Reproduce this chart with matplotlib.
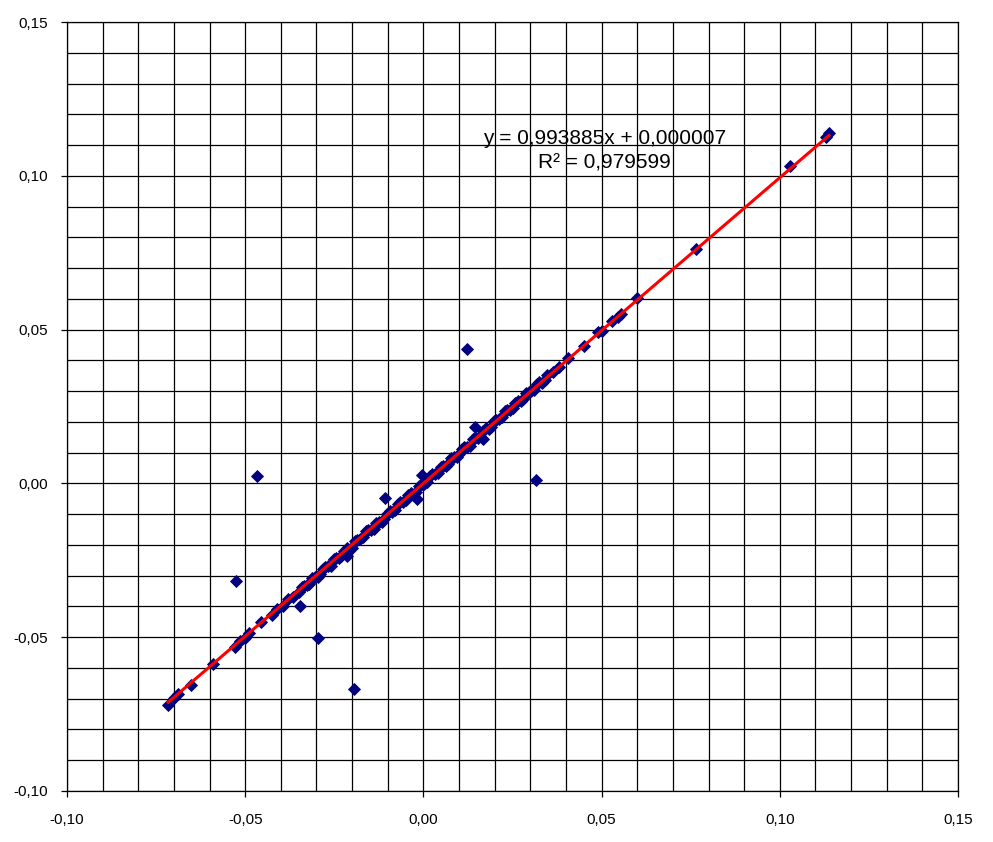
import numpy as np
import matplotlib
matplotlib.use("Agg")
import matplotlib.pyplot as plt
from matplotlib.ticker import FuncFormatter

plt.rcParams['font.family'] = ['Liberation Sans', 'DejaVu Sans']

# dichter Bereich entlang der Diagonale
band_x = [-0.0350, -0.0335, -0.0320, -0.0305, -0.0290, -0.0275, -0.0260, -0.0245,
          -0.0230, -0.0215, -0.0200, -0.0185, -0.0170, -0.0155, -0.0140, -0.0125,
          -0.0110, -0.0095, -0.0080, -0.0065, -0.0050, -0.0035, -0.0020, -0.0005,
          0.0010, 0.0025, 0.0040, 0.0055, 0.0070, 0.0085, 0.0100, 0.0115,
          0.0130, 0.0145, 0.0160, 0.0175, 0.0190, 0.0205, 0.0220, 0.0235,
          0.0250, 0.0265, 0.0280, 0.0295, 0.0310, 0.0325, 0.0340]
band_y = [-0.0354, -0.0332, -0.0327, -0.0303, -0.0295, -0.0271, -0.0268, -0.0244,
          -0.0236, -0.0210, -0.0209, -0.0183, -0.0175, -0.0151, -0.0147, -0.0124,
          -0.0116, -0.0090, -0.0088, -0.0062, -0.0055, -0.0031, -0.0027, -0.0003,
          0.0005, 0.0029, 0.0034, 0.0058, 0.0062, 0.0087, 0.0095, 0.0119,
          0.0123, 0.0146, 0.0154, 0.0180, 0.0182, 0.0207, 0.0215, 0.0239,
          0.0244, 0.0268, 0.0273, 0.0297, 0.0305, 0.0329, 0.0337]
band2_x = [-0.0342, -0.0327, -0.0312, -0.0297, -0.0282, -0.0267, -0.0252, -0.0237,
           -0.0222, -0.0207, -0.0192, -0.0177, -0.0162, -0.0147, -0.0132, -0.0117,
           -0.0102, -0.0087, -0.0072, -0.0057, -0.0042, -0.0027, -0.0012, 0.0003,
           0.0018, 0.0033, 0.0048, 0.0063, 0.0078, 0.0093, 0.0108, 0.0123,
           0.0138, 0.0153, 0.0168, 0.0183, 0.0198, 0.0213, 0.0228, 0.0243,
           0.0258, 0.0273, 0.0288, 0.0303, 0.0318, 0.0333, 0.0348]
band2_y = [-0.0336, -0.0331, -0.0309, -0.0304, -0.0277, -0.0270, -0.0245, -0.0242,
           -0.0220, -0.0213, -0.0187, -0.0181, -0.0156, -0.0152, -0.0129, -0.0124,
           -0.0098, -0.0092, -0.0066, -0.0060, -0.0037, -0.0033, -0.0009, -0.0003,
           0.0023, 0.0029, 0.0054, 0.0058, 0.0081, 0.0086, 0.0113, 0.0119,
           0.0144, 0.0148, 0.0171, 0.0177, 0.0203, 0.0209, 0.0234, 0.0238,
           0.0261, 0.0267, 0.0293, 0.0299, 0.0324, 0.0328, 0.0351]

# Einzelpunkte auf der Linie (Enden)
tail_x = [-0.0716, -0.0700, -0.0688, -0.0651, -0.0590, -0.0530, -0.0515, -0.0500,
          -0.0490, -0.0455, -0.0425, -0.0410, -0.0395, -0.0380, -0.0365,
          0.0365, 0.0380, 0.0405, 0.0450, 0.0490, 0.0500, 0.0530, 0.0545,
          0.0555, 0.0600, 0.0765, 0.1030, 0.1130, 0.1138]
tail_y = [-0.0719, -0.0697, -0.0685, -0.0654, -0.0587, -0.0533, -0.0512, -0.0503,
          -0.0487, -0.0452, -0.0428, -0.0407, -0.0398, -0.0377, -0.0368,
          0.0362, 0.0377, 0.0407, 0.0448, 0.0492, 0.0497, 0.0528, 0.0542,
          0.0552, 0.0602, 0.0762, 0.1032, 0.1127, 0.1138]

# Ausreisser
out_x = [0.0123, 0.0317, -0.0466, -0.0527, -0.0345, -0.0297, -0.0196,
         -0.0107, -0.0017, -0.0003, 0.0146, 0.0168, -0.0213]
out_y = [0.0436, 0.0010, 0.0025, -0.0318, -0.0400, -0.0504, -0.0670,
         -0.0046, -0.0052, 0.0026, 0.0182, 0.0143, -0.0237]

# Trendlinie
slope = 0.993885
intercept = 0.000007
r2 = 0.979599

xs = band_x + band2_x + tail_x + out_x
ys = band_y + band2_y + tail_y + out_y

fig = plt.figure(figsize=(9.93, 8.42), dpi=100)
ax = fig.add_axes([67 / 993, 51 / 842, 891 / 993, 769 / 842])

ax.plot(xs, ys, linestyle='none', marker='D', markersize=6.3,
        color='#000080', markeredgewidth=0.6, zorder=3)

xl = np.array([min(xs), max(xs)])
ax.plot(xl, slope * xl + intercept, color='#ff0000', lw=2.2, zorder=4)

ax.set_xlim(-0.10, 0.15)
ax.set_ylim(-0.10, 0.15)
ax.set_xticks(np.arange(-0.10, 0.1501, 0.05))
ax.set_yticks(np.arange(-0.10, 0.1501, 0.05))
ax.set_xticks(np.arange(-0.10, 0.1501, 0.01), minor=True)
ax.set_yticks(np.arange(-0.10, 0.1501, 0.01), minor=True)
ax.grid(True, which='both', color='black', lw=0.9, zorder=1)
ax.set_axisbelow(True)

fmt = FuncFormatter(lambda v, p: ('%.2f' % v).replace('.', ',').replace('-0,00', '0,00'))
ax.xaxis.set_major_formatter(fmt)
ax.yaxis.set_major_formatter(fmt)
ax.tick_params(which='major', direction='out', length=4, width=0.9, labelsize=11)
ax.tick_params(axis='y', which='major', pad=10)
ax.tick_params(axis='x', which='major', pad=12)
ax.tick_params(which='minor', length=0)
for s in ax.spines.values():
    s.set_color('black')
    s.set_linewidth(0.9)

eq = 'y = %sx + %s' % (('%.6f' % slope).replace('.', ','), ('%.6f' % intercept).replace('.', ','))
ax.text(0.0508, 0.1120, eq, ha='center', va='center', fontsize=15, zorder=5)
ax.text(0.0508, 0.1043, 'R² = ' + ('%.6f' % r2).replace('.', ','), ha='center',
        va='center', fontsize=15, zorder=5)

fig.savefig('out.png', dpi=100)
